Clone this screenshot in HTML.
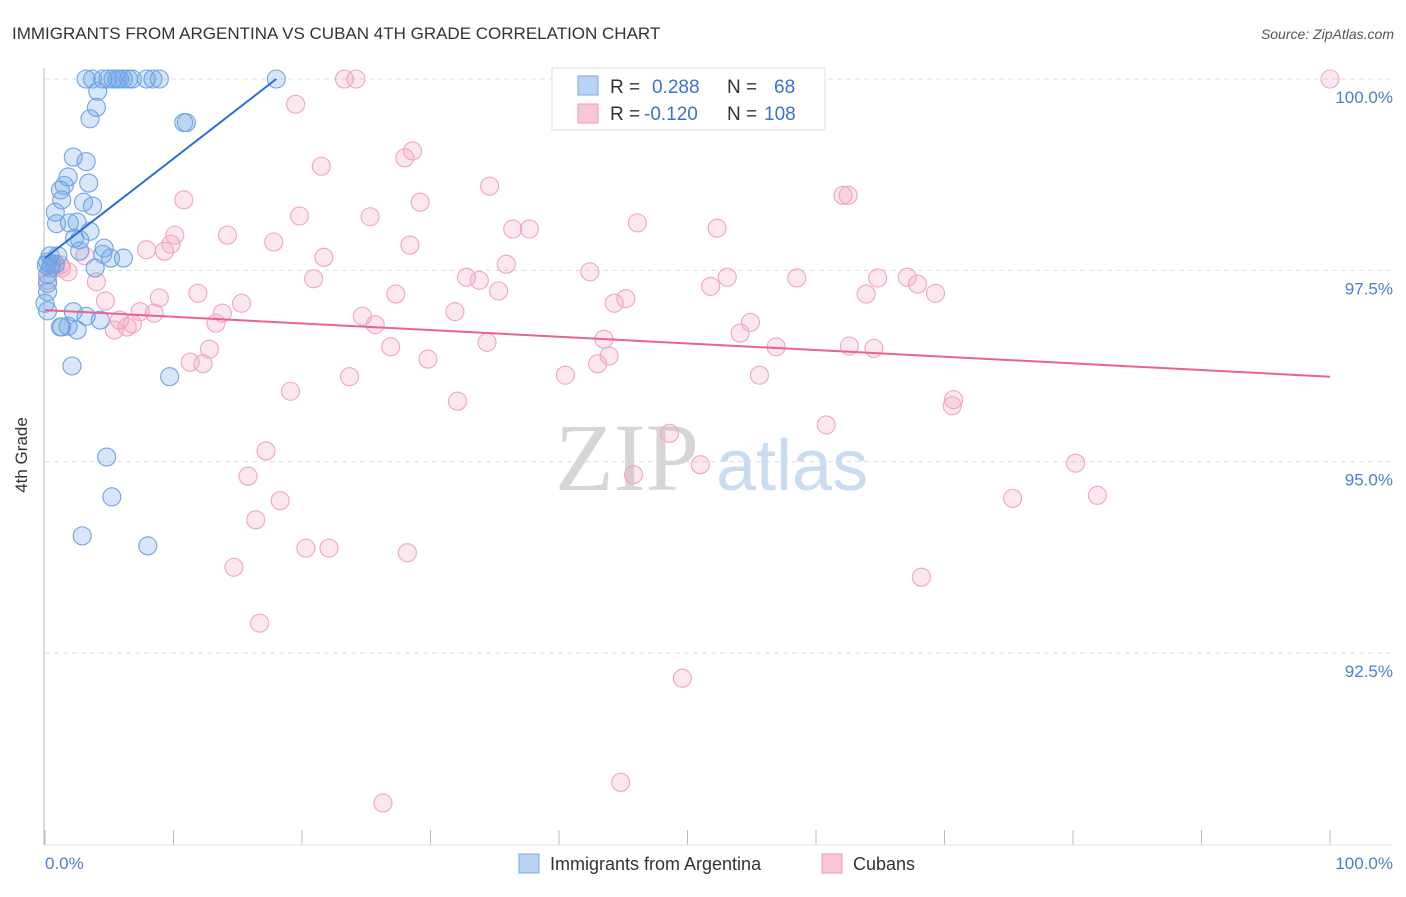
<!DOCTYPE html>
<html><head><meta charset="utf-8"><style>
body{margin:0;background:#fff;font-family:"Liberation Sans",sans-serif;}
svg text{font-family:"Liberation Sans",sans-serif;}
</style></head><body>
<svg id="chart" width="1406" height="892">
<text x="12" y="39" font-size="17" fill="#333">IMMIGRANTS FROM ARGENTINA VS CUBAN 4TH GRADE CORRELATION CHART</text>
<text x="1394" y="39" font-size="14" fill="#555" font-style="italic" text-anchor="end">Source: ZipAtlas.com</text>
<g id="grid"></g>
<text x="555" y="490" font-size="96" fill="#d6d6d6" style="font-family:'Liberation Serif',serif">ZIP</text>
<text x="716" y="490" font-size="72" fill="#c9dcf2">atlas</text>
<line x1="44" y1="68" x2="44" y2="845" stroke="#bbb"/>
<line x1="44" y1="845" x2="1393" y2="845" stroke="#ddd"/>
<text x="27" y="455" font-size="17" fill="#333" transform="rotate(-90 27 455)" text-anchor="middle">4th Grade</text>
<text x="45" y="869" font-size="17" fill="#4a7fd4">0.0%</text>
<text x="1393" y="869" font-size="17" fill="#4a7fd4" text-anchor="end">100.0%</text>
<g id="pts"></g>
<g id="trends"></g>
<g>
<rect x="552" y="68" width="273" height="62" fill="#fff" stroke="#ddd"/>
<rect x="578" y="76" width="20" height="19" fill="#b9d3f3" stroke="#7aa9e6"/>
<rect x="578" y="104" width="20" height="19" fill="#f9c6d6" stroke="#ee9bb5"/>
<text x="610" y="93" font-size="19" fill="#333">R =</text>
<text x="652" y="93" font-size="19" fill="#3a72d0">0.288</text>
<text x="727" y="93" font-size="19" fill="#333">N =</text>
<text x="774" y="93" font-size="19" fill="#3a72d0">68</text>
<text x="610" y="120" font-size="19" fill="#333">R =</text>
<text x="644" y="120" font-size="19" fill="#3a72d0">-0.120</text>
<text x="727" y="120" font-size="19" fill="#333">N =</text>
<text x="764" y="120" font-size="19" fill="#3a72d0">108</text>
</g>
<g>
<rect x="519" y="854" width="20" height="19" fill="#b9d3f3" stroke="#7aa9e6"/>
<text x="550" y="870" font-size="18" fill="#333">Immigrants from Argentina</text>
<rect x="822" y="854" width="20" height="19" fill="#f9c6d6" stroke="#ee9bb5"/>
<text x="853" y="870" font-size="18" fill="#333">Cubans</text>
</g>
</svg>
<script>
const yTicks=[100,97.5,95,92.5];
const yTickLabels=["100.0%","97.5%","95.0%","92.5%"];
const xTicks=[0,10,20,30,40,50,60,70,80,90,100];
const blueX=[3.2,3.7,4.5,4.9,5.3,5.6,5.8,6.1,6.5,6.8,7.9,8.4,8.9,18.0,4.1,4.0,3.5,10.8,11.0,2.2,3.2,1.8,1.5,3.4,1.2,1.3,3.0,3.7,0.8,0.9,1.9,2.5,3.5,2.3,2.7,0.4,1.0,4.6,2.7,4.5,5.1,6.1,3.9,0.2,0.4,0.2,0.2,0.2,2.2,3.2,4.3,1.2,1.8,2.5,1.3,2.1,9.7,4.8,5.2,2.9,8.0,0.8,0.5,0.2,0.1,0.0];
const blueY=[100,100,100,100,100,100,100,100,100,100,100,100,100,100,99.84,99.63,99.48,99.43,99.43,98.98,98.92,98.72,98.61,98.64,98.55,98.42,98.39,98.34,98.26,98.11,98.12,98.13,98.01,97.92,97.90,97.69,97.69,97.79,97.75,97.71,97.66,97.66,97.53,97.61,97.53,97.33,97.22,96.97,96.96,96.90,96.85,96.76,96.77,96.72,96.76,96.25,96.11,95.06,94.54,94.03,93.90,97.58,97.58,97.44,97.57,97.07];
const pinkX=[100,23.3,24.2,19.5,28.0,28.6,21.5,34.6,62.1,62.5,10.8,29.2,19.8,25.3,46.1,36.4,37.7,52.3,14.2,10.1,9.8,28.4,17.8,7.9,9.3,21.7,35.9,1.3,3.1,42.4,53.1,58.5,32.8,33.8,20.9,64.8,67.1,67.9,51.8,63.9,69.3,35.3,4.0,27.3,8.9,11.9,4.7,15.3,44.3,45.2,7.4,8.5,13.8,31.9,24.7,25.7,5.8,6.8,13.3,5.4,6.4,54.9,54.1,43.5,34.4,26.9,56.9,62.6,64.5,12.8,43.9,11.3,12.3,29.8,43.0,40.5,55.6,23.7,19.1,70.7,70.6,32.1,60.8,48.6,17.2,15.8,45.8,51.0,80.2,18.3,75.3,81.9,16.4,20.3,22.1,28.2,14.7,68.2,16.7,49.6,44.8,26.3,0.2,0.8,1.8,0.5,1.2];
const pinkY=[100,100,100,99.67,98.97,99.06,98.86,98.60,98.48,98.48,98.42,98.39,98.21,98.20,98.12,98.04,98.04,98.05,97.96,97.96,97.84,97.83,97.87,97.77,97.75,97.67,97.58,97.53,97.69,97.48,97.41,97.40,97.41,97.37,97.39,97.40,97.41,97.32,97.29,97.19,97.20,97.23,97.35,97.19,97.14,97.20,97.10,97.07,97.07,97.13,96.96,96.94,96.94,96.96,96.90,96.79,96.85,96.80,96.81,96.72,96.76,96.82,96.68,96.60,96.56,96.50,96.50,96.51,96.48,96.47,96.38,96.30,96.28,96.34,96.28,96.13,96.13,96.11,95.92,95.81,95.73,95.79,95.48,95.37,95.14,94.81,94.83,94.96,94.98,94.49,94.52,94.56,94.24,93.87,93.87,93.81,93.62,93.49,92.89,92.17,90.81,90.54,97.37,97.54,97.48,97.57,97.57];
const blueTrendX=[0,18];
const blueTrendY=[97.66,100];
const pinkTrendX=[0,100];
const pinkTrendY=[96.98,96.11];
const NS="http://www.w3.org/2000/svg";
function sx(v){return 45+v*12.85;}
function sy(v){return 79+(100-v)*76.53;}
function mk(tag,attrs,parent){const e=document.createElementNS(NS,tag);for(const k in attrs)e.setAttribute(k,attrs[k]);parent.appendChild(e);return e;}
const grid=document.getElementById('grid');
yTicks.forEach((t,i)=>{
 const l=mk('line',{x1:45,x2:1393,y1:sy(t),y2:sy(t),stroke:'#ddd','stroke-dasharray':'5,4'},grid);
 
 
 const tx=mk('text',{x:1393,y:sy(t)+24,'font-size':17,fill:'#4a7fd4','text-anchor':'end'},grid);
 tx.textContent=yTickLabels[i];
 
 
});
xTicks.forEach(t=>{
 const l=mk('line',{x1:sx(t),x2:sx(t),y1:830,y2:845,stroke:'#bbb'},grid);
 
 
});
const pts=document.getElementById('pts');
pinkX.forEach((x,i)=>{
 const c=mk('circle',{cx:sx(x),cy:sy(pinkY[i]),r:9,fill:'rgba(243,160,188,0.25)',stroke:'#f0a5bd','stroke-width':1.1},pts);
 
 
});
blueX.forEach((x,i)=>{
 const c=mk('circle',{cx:sx(x),cy:sy(blueY[i]),r:9,fill:'rgba(110,165,230,0.28)',stroke:'#6ea3e4','stroke-width':1.1},pts);
 
 
});
const tr=document.getElementById('trends');
const bl=mk('line',{x1:sx(blueTrendX[0]),y1:sy(blueTrendY[0]),x2:sx(blueTrendX[1]),y2:sy(blueTrendY[1]),stroke:'#2a6fd6','stroke-width':2},tr);


const pl=mk('line',{x1:sx(pinkTrendX[0]),y1:sy(pinkTrendY[0]),x2:sx(pinkTrendX[1]),y2:sy(pinkTrendY[1]),stroke:'#e8638f','stroke-width':2},tr);


</script>
</body></html>
